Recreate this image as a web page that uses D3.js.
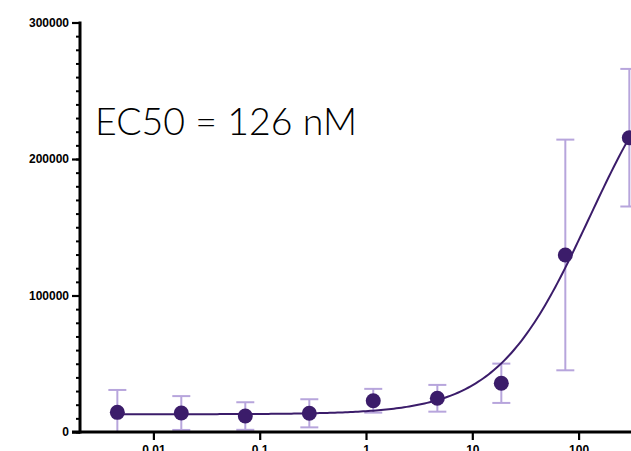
<!DOCTYPE html>
<html>
<head>
<meta charset="utf-8">
<script src="https://cdn.jsdelivr.net/npm/d3@7"></script>
<style>
  html, body { margin: 0; padding: 0; background: #fff; }
  svg { display: block; }
</style>
</head>
<body>
<svg id="chart" width="631" height="451"></svg>
<script>
// Concentrations (4-fold dilution series) and mean response
const concentrations = [0.00458, 0.0183, 0.0732, 0.293, 1.17, 4.69, 18.75, 75, 300];
const responses      = [14400, 13900, 11700, 13700, 22900, 24700, 35700, 129700, 215600];
const errors         = [16400, 12400, 10100, 10300, 8700, 9800, 14400, 84500, 50400];

// Axis ticks
const yMajorTicks = [0, 100000, 200000, 300000];
const xTickValues = [0.01, 0.1, 1, 10, 100];
const xTickLabels = ["0.01", "0.1", "1", "10", "100"];

// Four-parameter logistic fit
const fitBottom = 13000;
const fitTop = 300800;
const ec50 = 126;
const hillSlope = 1.0;
const ec50Label = "EC50 = 126 nM";

const svg = d3.select("#chart");

const x = d3.scaleLog().domain([0.001, 1000]).range([47.1, 684.9]);
const y = d3.scaleLinear().domain([0, 300000]).range([432, 22.5]);

const axisColor = "#000";
const dotColor = "#3b1c6a";
const lineColor = "#3b1c6a";
const errColor = "#b7a5dc";

// Fitted curve
const fit = c => fitBottom + (fitTop - fitBottom) / (1 + Math.pow(ec50 / c, hillSlope));
const logMin = Math.log10(concentrations[0]);
const logMax = Math.log10(concentrations[concentrations.length - 1]);
const curvePts = d3.range(0, 201).map(i => {
  const c = Math.pow(10, logMin + (logMax - logMin) * i / 200);
  return [c, fit(c)];
});

// Error bars
const eb = svg.append("g").attr("stroke", errColor).attr("stroke-width", 2).attr("fill", "none");
concentrations.forEach((c, i) => {
  const cx = x(c);
  const top = y(responses[i] + errors[i]);
  const bot = y(Math.max(responses[i] - errors[i], 0));
  eb.append("line").attr("x1", cx).attr("x2", cx).attr("y1", top).attr("y2", bot);
  eb.append("line").attr("x1", cx - 9).attr("x2", cx + 9).attr("y1", top).attr("y2", top);
  eb.append("line").attr("x1", cx - 9).attr("x2", cx + 9).attr("y1", bot).attr("y2", bot);
});

svg.append("path")
  .datum(curvePts)
  .attr("fill", "none")
  .attr("stroke", lineColor)
  .attr("stroke-width", 2)
  .attr("d", d3.line().x(d => x(d[0])).y(d => y(d[1])));

svg.append("g")
  .selectAll("circle")
  .data(concentrations)
  .join("circle")
  .attr("cx", d => x(d))
  .attr("cy", (d, i) => y(responses[i]))
  .attr("r", 7.5)
  .attr("fill", dotColor);

// Y axis: major ticks with labels, minor ticks every 10000
const yAxisG = svg.append("g").attr("transform", "translate(80,0)");
yAxisG.call(
  d3.axisLeft(y)
    .tickValues(d3.range(0, 300001, 10000))
    .tickSize(4)
    .tickFormat("")
);
yAxisG.selectAll(".tick line").attr("stroke", axisColor).attr("stroke-width", 2);
yAxisG.select(".domain").remove();
const yMajor = svg.append("g").attr("transform", "translate(80,0)");
yMajor.call(d3.axisLeft(y).tickValues(yMajorTicks).tickSize(8).tickPadding(3).tickFormat(d3.format("d")));
yMajor.select(".domain").remove();
yMajor.selectAll(".tick line").attr("stroke", axisColor).attr("stroke-width", 2.2);
yMajor.selectAll(".tick text")
  .attr("font-family", "'Liberation Sans', Arial, sans-serif")
  .attr("font-weight", "bold")
  .attr("font-size", 12)
  .attr("fill", "#000");

svg.append("line")
  .attr("x1", 80).attr("x2", 80)
  .attr("y1", y(300000) - 1).attr("y2", y(0) + 1.5)
  .attr("stroke", axisColor).attr("stroke-width", 3);

// X axis
const xAxisG = svg.append("g").attr("transform", "translate(0,432)");
xAxisG.call(
  d3.axisBottom(x)
    .tickValues(xTickValues)
    .tickSize(8)
    .tickPadding(5)
    .tickFormat((d, i) => xTickLabels[i])
);
xAxisG.select(".domain").remove();
xAxisG.selectAll(".tick line").attr("stroke", axisColor).attr("stroke-width", 2.2);
xAxisG.selectAll(".tick text")
  .attr("font-family", "'Liberation Sans', Arial, sans-serif")
  .attr("font-weight", "bold")
  .attr("font-size", 12)
  .attr("fill", "#000");

svg.append("line")
  .attr("x1", 72).attr("x2", 640)
  .attr("y1", 432).attr("y2", 432)
  .attr("stroke", axisColor).attr("stroke-width", 3);

// EC50 annotation
svg.append("text")
  .attr("x", 95)
  .attr("y", 135)
  .attr("font-family", "'Lato', 'Open Sans', sans-serif")
  .attr("font-weight", 300)
  .attr("font-size", 37)
  .attr("fill", "#000")
  .attr("textLength", 262)
  .attr("lengthAdjust", "spacingAndGlyphs")
  .text(ec50Label);
</script>
</body>
</html>
